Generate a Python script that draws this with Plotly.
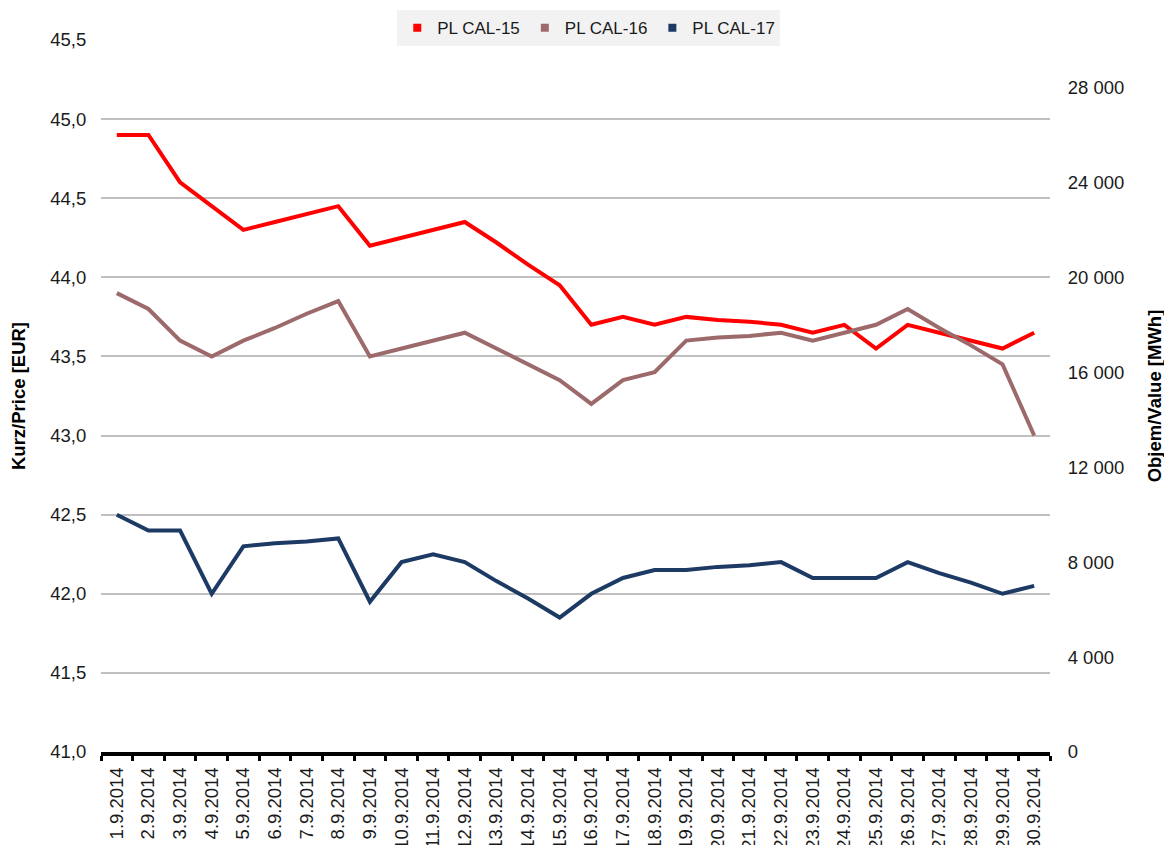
import plotly.graph_objects as go

dates = ["1.9.2014", "2.9.2014", "3.9.2014", "4.9.2014", "5.9.2014", "6.9.2014", "7.9.2014",
         "8.9.2014", "9.9.2014", "10.9.2014", "11.9.2014", "12.9.2014", "13.9.2014", "14.9.2014",
         "15.9.2014", "16.9.2014", "17.9.2014", "18.9.2014", "19.9.2014", "20.9.2014", "21.9.2014",
         "22.9.2014", "23.9.2014", "24.9.2014", "25.9.2014", "26.9.2014", "27.9.2014", "28.9.2014",
         "29.9.2014", "30.9.2014"]

cal15 = [44.90, 44.90, 44.60, 44.45, 44.30, 44.35, 44.40, 44.45, 44.20, 44.25,
         44.30, 44.35, 44.22, 44.08, 43.95, 43.70, 43.75, 43.70, 43.75, 43.73,
         43.72, 43.70, 43.65, 43.70, 43.55, 43.70, 43.65, 43.60, 43.55, 43.65]

cal16 = [43.90, 43.80, 43.60, 43.50, 43.60, 43.68, 43.77, 43.85, 43.50, 43.55,
         43.60, 43.65, 43.55, 43.45, 43.35, 43.20, 43.35, 43.40, 43.60, 43.62,
         43.63, 43.65, 43.60, 43.65, 43.70, 43.80, 43.68, 43.57, 43.45, 43.00]

cal17 = [42.50, 42.40, 42.40, 42.00, 42.30, 42.32, 42.33, 42.35, 41.95, 42.20,
         42.25, 42.20, 42.08, 41.97, 41.85, 42.00, 42.10, 42.15, 42.15, 42.17,
         42.18, 42.20, 42.10, 42.10, 42.10, 42.20, 42.13, 42.07, 42.00, 42.05]

series = [("PL CAL-15", cal15, "#ff0000"),
          ("PL CAL-16", cal16, "#9c6a6a"),
          ("PL CAL-17", cal17, "#1c3a64")]

fig = go.Figure()
for name, vals, color in series:
    fig.add_trace(go.Scatter(x=dates, y=vals, mode="lines", name=name,
                             line=dict(color=color, width=4), showlegend=False,
                             hoverinfo="skip"))
    fig.add_trace(go.Scatter(x=[None], y=[None], mode="markers", name=name,
                             marker=dict(symbol="square", size=8, color=color),
                             showlegend=True))

# invisible trace so the secondary axis is drawn
fig.add_trace(go.Scatter(x=[dates[0]], y=[None], yaxis="y2", mode="lines",
                         showlegend=False, hoverinfo="skip"))

font_main = "Liberation Sans, Arial, sans-serif"
font_narrow = "Liberation Sans Narrow, Arial Narrow, Liberation Sans, sans-serif"
txt = "#1a1a1a"

# the page body has an 8px margin, so the figure is sized to fill the rest of the window
fig.update_layout(
    width=1164, height=837,
    margin=dict(l=93, r=122, t=32, b=93, autoexpand=False),
    paper_bgcolor="white", plot_bgcolor="white",
    separators=", ",
    font=dict(family=font_main, size=18, color=txt),
    legend=dict(orientation="h", x=0.514, xanchor="center",
                yref="container", y=0.9975, yanchor="top",
                bgcolor="#f2f2f2", font=dict(size=17, color=txt),
                itemwidth=30, tracegroupgap=0),
    xaxis=dict(type="category", tickangle=-90, tickfont=dict(size=18.5, color=txt),
               showline=True, linecolor="black", linewidth=4,
               ticks="outside", tickson="boundaries", ticklen=5, tickwidth=3,
               tickcolor="black", showgrid=False, range=[-0.5, 29.5],
               automargin=False, ticklabelstandoff=4),
    yaxis=dict(range=[41, 45.5], dtick=0.5, tickformat=".1f",
               showgrid=True, gridcolor="#c0c0c0", gridwidth=2,
               zeroline=False, showline=False, ticks="outside", ticklen=10,
               tickcolor="rgba(0,0,0,0)", automargin=False,
               tickfont=dict(size=18.5, color=txt),
               title=dict(text="<b>Kurz/Price [EUR]</b>", standoff=21,
                          font=dict(family=font_narrow, size=18.5, color="#000000"))),
    yaxis2=dict(range=[0, 30000], dtick=4000, tickformat=",d", overlaying="y",
                side="right", showgrid=False, zeroline=False, showline=False,
                ticks="outside", ticklen=13, tickcolor="rgba(0,0,0,0)",
                automargin=False,
                tickfont=dict(size=18.5, color=txt),
                title=dict(text="<b>Objem/Value [MWh]</b>", standoff=24,
                           font=dict(family=font_narrow, size=18.5, color="#000000"))),
    hovermode=False,
)

fig.write_html("out.html")
